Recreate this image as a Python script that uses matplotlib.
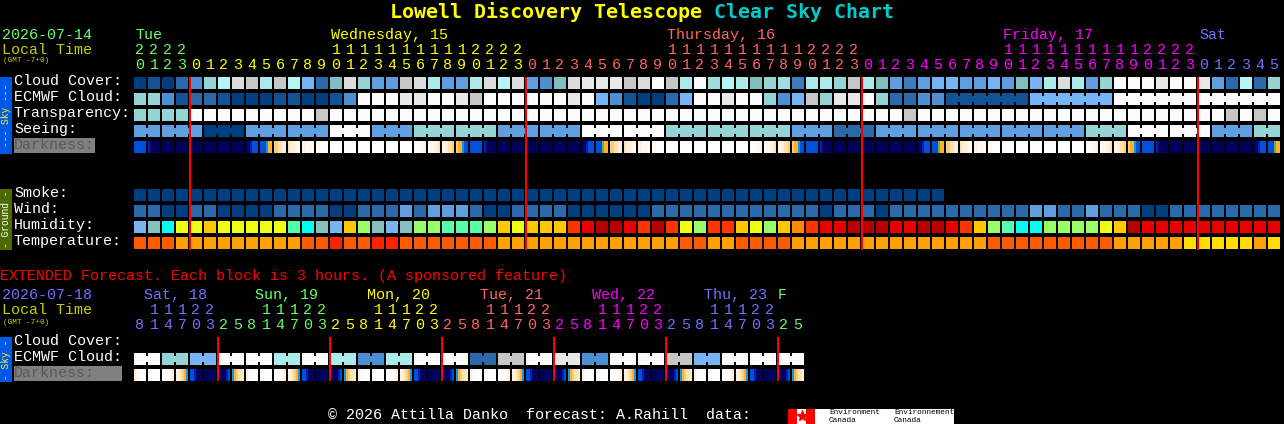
import matplotlib
matplotlib.use('Agg')
import matplotlib.pyplot as plt

# hours along the top of the main chart
hours_tens = [2, 2, 2, 2, '', '', '', '', '', '', '', '', '', '', 1, 1, 1, 1, 1, 1, 1, 1, 1, 1, 2, 2, 2, 2,
              '', '', '', '', '', '', '', '', '', '', 1, 1, 1, 1, 1, 1, 1, 1, 1, 1, 2, 2, 2, 2,
              '', '', '', '', '', '', '', '', '', '', 1, 1, 1, 1, 1, 1, 1, 1, 1, 1, 2, 2, 2, 2,
              '', '', '', '', '', '']
hours_ones = [0, 1, 2, 3, 0, 1, 2, 3, 4, 5, 6, 7, 8, 9, 0, 1, 2, 3, 4, 5, 6, 7, 8, 9, 0, 1, 2, 3,
              0, 1, 2, 3, 4, 5, 6, 7, 8, 9, 0, 1, 2, 3, 4, 5, 6, 7, 8, 9, 0, 1, 2, 3,
              0, 1, 2, 3, 4, 5, 6, 7, 8, 9, 0, 1, 2, 3, 4, 5, 6, 7, 8, 9, 0, 1, 2, 3,
              0, 1, 2, 3, 4, 5]
hours_day = ['Tue'] * 4 + ['Wed'] * 24 + ['Thu'] * 24 + ['Fri'] * 24 + ['Sat'] * 6
day_labels = [('Tue', 0, 'Tue'), ('Wednesday, 15', 14, 'Wed'), ('Thursday, 16', 38, 'Thu'),
              ('Friday, 17', 62, 'Fri'), ('Sat', 76, 'Sat')]

# percent cloud, read per block
cloud_cover = [0, 10, 0, 20, 35, 70, 85, 93, 90, 80, 90, 85, 50, 20, 60, 93, 70, 40, 40, 90, 93, 80,
               40, 40, 80, 93, 85, 93, 40, 35, 60, 93, 96, 96, 96, 90, 93, 100, 90, 80, 100, 75, 85, 80,
               60, 70, 75, 30, 80, 80, 70, 90, 80, 60, 40, 30, 40, 50, 50, 40, 40, 50, 40, 60, 50, 80,
               93, 80, 40, 70, 100, 100, 100, 96, 100, 100, 96, 40, 20, 85, 20, 70]
ecmwf_cloud = [70, 70, 35, 10, 20, 20, 10, 0, 0, 0, 10, 10, 0, 0, 10, 35, 100, 100, 100, 96, 96, 100,
               100, 96, 90, 100, 100, 100, 100, 100, 100, 96, 100, 50, 35, 10, 0, 0, 20, 50, 100, 100,
               96, 100, 100, 70, 35, 50, 90, 70, 96, 96, 100, 70, 20, 20, 35, 35,
               10, 10, 10, 10, 10, 10, 50, 50, 50, 50, 50, 50,
               100, 100, 100, 100, 100, 100, 100, 100, 100, 100, 100, 100]
ecmwf_runs = [1] * 58 + [6, 6, 6, 6]
transparency = [70, 70, 70, 70, 100, 100, 100, 100, 100, 100, 100, 100, 100, 90, 100, 100, 100, 100, 100, 100,
                100, 100, 100, 100, 100, 100, 100, 100, 100, 100, 100, 100, 100, 100, 100, 100, 100, 100,
                100, 100, 100, 100, 100, 100, 100, 100, 100, 100, 100, 100, 100, 100, 100, 100, 100, 90,
                100, 100, 100, 100, 100, 100, 100, 100, 100, 100, 100, 100, 100, 100, 100, 100, 100, 100,
                100, 100, 100, 100, 90, 100, 90, 100]
seeing_runs = [2] + [3] * 26 + [2]
seeing = [40, 40, 0, 40, 40, 100, 40, 70, 70, 40, 40, 100, 100, 70, 70, 70, 40, 20,
          40, 40, 40, 40, 40, 70, 100, 100, 40, 70]

# darkness: six samples per block, left to right
darkness = ['bbbbbb', 'mdnnnn', 'nnnnnn', 'nnnnnn', 'nnnnnn', 'nnnnnn', 'nnnnnn', 'nnnnnn',
            'ndmbbb', 'bbbcoo', 'yyppqq', 'pqqqrr', 'qqrrrw', 'rrwwww', 'wwwwww', 'wwwwww',
            'wwwwww', 'wwwwww', 'wwwwww', 'wwwwww', 'wwwrrq', 'wrrqqp', 'rqqppy', 'yoocbb',
            'bbbbbb', 'mdnnnn', 'nnnnnn', 'nnnnnn', 'nnnnnn', 'nnnnnn', 'nnnnnn', 'nnnnnn',
            'ndmbbb', 'bbbgoo', 'yyppqq', 'pqqqrr', 'qqrrrw', 'rrwwww', 'wwwwww', 'wwwwww',
            'wwwwww', 'wwwwww', 'wwwwww', 'wwwwww', 'wwwrrq', 'wrrqqp', 'rqqppy', 'yoocbb',
            'bbbbbb', 'mdnnnn', 'nnnnnn', 'nnnnnn', 'nnnnnn', 'nnnnnn', 'nnnnnn', 'nnnnnn',
            'ndmbbb', 'bbbgoo', 'yyppqq', 'pqqqrr', 'qqrrrw', 'rrwwww', 'wwwwww', 'wwwwww',
            'wwwwww', 'wwwwww', 'wwwwww', 'wwwwww', 'wwwrrq', 'wrrqqp', 'rqqppy', 'yoocbb',
            'bbbbbb', 'mdnnnn', 'nnnnnn', 'nnnnnn', 'nnnnnn', 'nnnnnn', 'nnnnnn', 'nnnnnn',
            'ndmbbb', 'bbbgoo']

smoke = [0] * 58
wind = [2, 2, 0, 0, 2, 2, 0, 0, 0, 0, 2, 2, 2, 2, 0, 0, 2, 2, 2, 3, 2, 3,
        3, 3, 2, 0, 0, 2, 2, 2, 2, 0, 0, 0, 0, 0, 0, 2, 2, 2, 2, 2, 2, 2, 2, 2, 2, 2, 2, 0, 2, 2,
        2, 0, 2, 2, 2, 2, 2, 2, 2, 2, 2, 2, 3, 3, 2, 2, 3, 2, 2, 2, 0, 0, 2, 2, 2, 2, 2, 2, 2, 2]
humidity = ['lb', 'te', 'cy', 'ye', 'ye', 'am', 'ye', 'ye', 'ye', 'ye', 'ye', 'mi', 'cy', 'te', 'lb', 'am',
            'gr', 'te', 'lb', 'te', 'gr', 'gr', 'mi', 'mi', 'mi', 'gr', 'am', 'ye', 'am', 'am', 'am',
            'or', 're', 'dr', 'dr', 're', 'or', 'dr', 'or', 'ye', 'gr', 'or', 'or', 'am', 'ye', 'gr', 'am',
            'lo', 'or', 're', 're', 'dr', 'dr', 'dr', 're', 're', 'dr', 'dr', 're', 'or', 'am', 'gr', 'mi',
            'cy', 'cy', 'gr', 'gr', 'gr', 'gr', 'ye', 'am', 'dr', 're', 're', 're', 're', 're', 're', 're',
            're', 're', 're']
temperature = [1, 1, 1, 2, 2, 2, 2, 2, 2, 2, 2, 2, 1, 1, 0, 1, 1, 0, 0, 1, 1, 1, 1, 1, 1, 1,
               2, 2, 2, 2, 2, 2, 2, 2, 2, 2, 2, 2, 2, 1, 1, 2, 2, 1, 1, 1, 1, 2, 2, 2, 2, 2,
               2, 2, 2, 2, 2, 2, 2, 2, 2, 1, 1, 1, 1, 1, 1, 1, 1, 1, 2, 2, 2, 2, 2, 3, 3, 3, 3, 3, 2, 3]

# extended forecast, 3 hour blocks
ext_tens = ['', 1, 1, 1, 2, 2, '', '', '', 1, 1, 1, 2, 2, '', '', '', 1, 1, 1, 2, 2, '', '',
            '', 1, 1, 1, 2, 2, '', '', '', 1, 1, 1, 2, 2, '', '', '', 1, 1, 1, 2, 2, '', '']
ext_ones = [8, 1, 4, 7, 0, 3, 2, 5, 8, 1, 4, 7, 0, 3, 2, 5, 8, 1, 4, 7, 0, 3, 2, 5,
            8, 1, 4, 7, 0, 3, 2, 5, 8, 1, 4, 7, 0, 3, 2, 5, 8, 1, 4, 7, 0, 3, 2, 5]
ext_day = ['Sat'] * 6 + ['Sun'] * 8 + ['Mon'] * 8 + ['Tue'] * 8 + ['Wed'] * 8 + ['Thu'] * 8 + ['Sun'] * 2
ext_day_labels = [('Sat, 18', 144, 'Sat'), ('Sun, 19', 255, 'Sun'), ('Mon, 20', 367, 'Mon'),
                  ('Tue, 21', 480, 'Tue'), ('Wed, 22', 592, 'Wed'), ('Thu, 23', 704, 'Sat'), ('F', 778, 'Sun')]
ext_ecmwf_runs = [2] * 24
ext_ecmwf = [100, 70, 50, 100, 100, 80, 100, 80, 35, 80, 100, 100,
             20, 90, 100, 96, 35, 100, 100, 90, 50, 100, 100, 100]
ext_darkness = ['qrwwww', 'wwwwww', 'wwwwrq', 'qqpyoc', 'bbmdnn', 'nnnnnn', 'nnnnmb', 'coyppq',
                'qrwwww', 'wwwwww', 'wwwwrq', 'qqpyoc', 'bbmdnn', 'nnnnnn', 'nnnnmb', 'coyppq',
                'qrwwww', 'wwwwww', 'wwwwrq', 'qqpyoc', 'bbmdnn', 'nnnnnn', 'nnnnmb', 'coyppq',
                'qrwwww', 'wwwwww', 'wwwwrq', 'qqpyoc', 'bbmdnn', 'nnnnnn', 'nnnnmb', 'coyppq',
                'qrwwww', 'wwwwww', 'wwwwrq', 'qqpyoc', 'bbmdnn', 'nnnnnn', 'nnnnmb', 'coyppq',
                'qrwwww', 'wwwwww', 'wwwwrq', 'qqpyoc', 'bbmdnn', 'nnnnnn', 'nnnnmb', 'coyppq']

cloud_colors = {0: '#003f7f', 10: '#135393', 20: '#2a6aaa', 30: '#3c7cbc', 35: '#4e8ed2', 40: '#5f9fdf',
                50: '#75b5f5', 60: '#7ebebe', 70: '#94d4d4', 75: '#9ddddd', 80: '#aaeaea', 85: '#b5f5f5',
                90: '#c6c6c6', 93: '#dcdcdc', 96: '#e8e8e8', 100: '#fbfbfb'}
wind_colors = {0: '#003f7f', 2: '#2a6aaa', 3: '#5f9fdf'}
humid_colors = {'lb': '#78b4f0', 'te': '#88c0c0', 'cy': '#00ffee', 'ye': '#eeff11', 'am': '#ffc800',
                'mi': '#55ffaa', 'gr': '#99ff66', 'or': '#ff3300', 're': '#e80000', 'dr': '#b80000',
                'lo': '#ff8800'}
temp_colors = {0: '#ff2200', 1: '#ff5a00', 2: '#ff9f00', 3: '#ffdd00'}
dark_colors = {'n': '#00005c', 'd': '#00007c', 'm': '#0020b0', 'b': '#0050dc', 'c': '#0a9ae8', 'g': '#60b060',
               'o': '#ffb030', 'y': '#ffcc70', 'p': '#ffe0b0', 'q': '#fff0dc', 'r': '#fff8f0', 'w': '#ffffff'}
day_colors = {'Tue': '#66ff66', 'Wed': '#ffff00', 'Thu': '#ff6666', 'Fri': '#ff00ff', 'Sat': '#7070ff'}
ext_colors = {'Sat': '#7070ff', 'Sun': '#66ff66', 'Mon': '#ffff00', 'Tue': '#ff6666', 'Wed': '#ff00ff',
              'Thu': '#7070ff'}

X0 = 134
STEP = 14
CELL = 12
MONO = 'Liberation Mono'

fig = plt.figure(figsize=(12.84, 4.24), dpi=100, facecolor='black')
ax = fig.add_axes([0, 0, 1, 1])
ax.set_axis_off()


def bars(x, y, w, h, c, zorder=2):
    # edges sit on whole pixels, so no snapping is needed
    ax.bar(x, h, width=w, bottom=y, color=c, align='edge', linewidth=0, antialiased=True,
           snap=False, zorder=zorder)


def txt(x, y, s, color='white', size=10.8, **kw):
    kw.setdefault('family', MONO)
    kw.setdefault('va', 'center')
    return ax.text(x, y, s, color=color, fontsize=size, **kw)


def draw_row(y, values, colors, runs=None):
    xs = [X0 + STEP * i for i in range(len(values))]
    bars(xs, y, CELL, CELL, [colors[v] for v in values])
    if runs is None:
        return
    # joined blocks get a short bridge over the gap
    start = 0
    for n in runs:
        if n > 1:
            gap_x = [X0 + STEP * k + CELL for k in range(start, start + n - 1)]
            bars(gap_x, y + 3, STEP - CELL, 6, [colors[values[start]]] * (n - 1))
        start += n


def expand(run_lengths, run_values):
    out = []
    for n, v in zip(run_lengths, run_values):
        out += [v] * n
    return out


def draw_dark(y, cells):
    xs, cs = [], []
    for i, cell in enumerate(cells):
        for k, ch in enumerate(cell):
            xs.append(X0 + STEP * i + 2 * k)
            cs.append(dark_colors[ch])
    bars(xs, y, 2, CELL, cs)


# title
txt(390, 12, 'Lowell Discovery Telescope', '#ffff00', 14.4, family='DejaVu Sans Mono', weight='bold')
txt(714, 12, 'Clear Sky Chart', '#00cccc', 14.4, family='DejaVu Sans Mono', weight='bold')

# header main
txt(2, 35, '2026-07-14', '#66ff66')
txt(2, 50, 'Local Time', '#cccc00')
txt(3, 61, '(GMT -7+0)', '#cccc00', 5.6)
for name, i, d in day_labels:
    txt(X0 + STEP * i + 1, 35, name, day_colors[d])
for i in range(len(hours_ones)):
    cx = X0 + STEP * i + 6
    col = day_colors[hours_day[i]]
    txt(cx, 50, str(hours_tens[i]), col, ha='center')
    txt(cx, 65, str(hours_ones[i]), col, ha='center')

# sky rows
draw_row(77, cloud_cover, cloud_colors)
draw_row(93, ecmwf_cloud, cloud_colors, ecmwf_runs)
draw_row(109, transparency, cloud_colors)
draw_row(125, expand(seeing_runs, seeing), cloud_colors, seeing_runs)
draw_dark(141, darkness)

# ground rows
draw_row(189, smoke, cloud_colors)
draw_row(205, wind, wind_colors)
draw_row(221, humidity, humid_colors)
draw_row(237, temperature, temp_colors)

for name, y in [('Cloud Cover:', 81), ('ECMWF Cloud:', 97), ('Transparency:', 113), ('Seeing:', 129),
                ('Smoke:', 193), ('Wind:', 209), ('Humidity:', 225), ('Temperature:', 241)]:
    txt(14, y, name)

bars([14], 138, 81, 15, ['#808080'])
txt(14, 145, 'Darkness:', '#585858', zorder=3)

# side bars
bars([0], 77, 12, 77, ['#0058e8'])
txt(6, 115.5, '--- Sky ---', '#ffff00', 6.9, rotation=90, ha='center')
bars([0], 189, 12, 61, ['#4d6b00'])
txt(6, 219.5, '- Ground -', 'white', 6.9, rotation=90, ha='center')

# midnight lines
bars([X0 + STEP * i - 1 for i in (4, 28, 52, 76)], 77, 2, 173, ['#ff0000'] * 4, zorder=4)

# extended section
txt(0, 276, 'EXTENDED Forecast. Each block is 3 hours. (A sponsored feature)', '#ff0000')
txt(2, 295, '2026-07-18', '#7070ff')
txt(2, 310, 'Local Time', '#cccc00')
txt(3, 322, '(GMT -7+0)', '#cccc00', 5.6)
for name, x, d in ext_day_labels:
    txt(x, 295, name, ext_colors[d])
for i in range(len(ext_ones)):
    cx = X0 + STEP * i + 6
    col = ext_colors[ext_day[i]]
    txt(cx, 310, str(ext_tens[i]), col, ha='center')
    txt(cx, 325, str(ext_ones[i]), col, ha='center')

draw_row(353, expand(ext_ecmwf_runs, ext_ecmwf), cloud_colors, ext_ecmwf_runs)
draw_dark(369, ext_darkness)

txt(14, 341, 'Cloud Cover:')
txt(14, 357, 'ECMWF Cloud:')
bars([14], 366, 108, 15, ['#808080'])
txt(14, 373, 'Darkness:', '#585858', zorder=3)
bars([0], 337, 12, 45, ['#0058e8'])
txt(6, 359.5, '- Sky -', '#ffff00', 6.9, rotation=90, ha='center')
bars([X0 + STEP * i - 1 for i in (6, 14, 22, 30, 38, 46)], 337, 2, 44, ['#ff0000'] * 6, zorder=4)

# footer
txt(328, 415, '\u00a9 2026 Attilla Danko  forecast: A.Rahill  data:')
bars([788], 409, 166, 15, ['#ffffff'])
bars([788, 806], 409, 9, 15, ['#ff0000', '#ff0000'], zorder=3)
ax.plot([801.5], [416], marker='*', color='#ff0000', markersize=8, linewidth=0, zorder=3)
txt(829, 413, 'Environment', 'black', 5.6, zorder=3)
txt(829, 420, 'Canada', 'black', 5.6, zorder=3)
txt(894, 413, 'Environnement', 'black', 5.6, zorder=3)
txt(894, 420, 'Canada', 'black', 5.6, zorder=3)

ax.set_xlim(0, 1284)
ax.set_ylim(424, 0)
fig.savefig('out.png', dpi=100, facecolor='black')
